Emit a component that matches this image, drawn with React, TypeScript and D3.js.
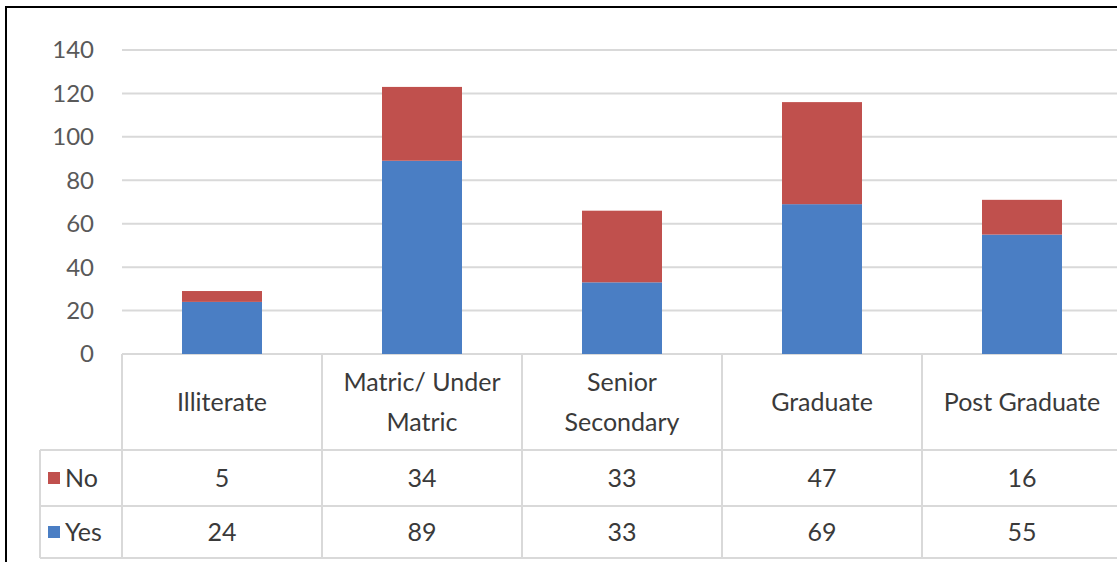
import React, { useEffect } from "react";
import * as d3 from "d3";

const categories = ["Illiterate", "Matric/ Under Matric", "Senior Secondary", "Graduate", "Post Graduate"];
const categoryLines = [["Illiterate"], ["Matric/ Under", "Matric"], ["Senior", "Secondary"], ["Graduate"], ["Post Graduate"]];
const yesValues = [24, 89, 33, 69, 55];
const noValues = [5, 34, 33, 47, 16];
const yTicks = [0, 20, 40, 60, 80, 100, 120, 140];

const W = 1117;
const H = 562;
const FONT = "Lato, 'Open Sans', sans-serif";
const TEXT = "#3a3a3a";
const GRID = "#d9d9d9";
const BLUE = "#4a7ec4";
const RED = "#c0504d";
const FS = 25;

export default function App() {
  useEffect(() => {
    document.body.style.margin = "0";
  }, []);

  const x = d3.scaleBand<string>().domain(categories).range([122, 1122]).padding(0);
  const y = d3.scaleLinear().domain([0, 140]).range([354, 50]);
  const bw = x.bandwidth() * 0.4;

  const headerTop = y(0);
  const headerBottom = 450;
  const noBottom = 506;
  const yesBottom = 558;
  const legendLeft = 40;

  return (
    <svg width={W} height={H} style={{ display: "block", background: "#fff" }} fontFamily={FONT}>
      <rect x={0} y={0} width={W} height={H} fill="#fff" />
      {yTicks.map((t) => (
        <line key={t} x1={122} x2={W} y1={y(t)} y2={y(t)} stroke={GRID} strokeWidth={2} />
      ))}
      {yTicks.map((t) => (
        <text key={"l" + t} x={94} y={y(t)} dy="0.35em" textAnchor="end" fontSize={24} fill="#595959">
          {t}
        </text>
      ))}
      {categories.map((c, i) => {
        const cx = (x(c) as number) + x.bandwidth() / 2;
        return (
          <g key={c}>
            <rect x={cx - bw / 2} y={y(yesValues[i])} width={bw} height={y(0) - y(yesValues[i])} fill={BLUE} />
            <rect
              x={cx - bw / 2}
              y={y(yesValues[i] + noValues[i])}
              width={bw}
              height={y(yesValues[i]) - y(yesValues[i] + noValues[i])}
              fill={RED}
            />
          </g>
        );
      })}
      <line x1={122} x2={W} y1={headerBottom} y2={headerBottom} stroke={GRID} strokeWidth={2} />
      <line x1={legendLeft} x2={122} y1={headerBottom} y2={headerBottom} stroke={GRID} strokeWidth={2} />
      <line x1={legendLeft} x2={W} y1={noBottom} y2={noBottom} stroke={GRID} strokeWidth={2} />
      <line x1={legendLeft} x2={W} y1={yesBottom} y2={yesBottom} stroke={GRID} strokeWidth={2} />
      <line x1={legendLeft} x2={legendLeft} y1={headerBottom} y2={yesBottom} stroke={GRID} strokeWidth={2} />
      {categories.map((c) => (
        <line key={"v" + c} x1={x(c) as number} x2={x(c) as number} y1={headerTop} y2={yesBottom} stroke={GRID} strokeWidth={2} />
      ))}
      {categories.map((c, i) => {
        const cx = (x(c) as number) + x.bandwidth() / 2;
        const lines = categoryLines[i];
        const mid = (headerTop + headerBottom) / 2;
        const lh = 40;
        return (
          <text key={"h" + c} x={cx} textAnchor="middle" fontSize={FS} fill={TEXT}>
            {lines.map((ln, j) => (
              <tspan key={j} x={cx} y={mid + (j - (lines.length - 1) / 2) * lh} dy="0.35em">
                {ln}
              </tspan>
            ))}
          </text>
        );
      })}
      {categories.map((c, i) => {
        const cx = (x(c) as number) + x.bandwidth() / 2;
        return (
          <g key={"r" + c}>
            <text x={cx} y={(headerBottom + noBottom) / 2} dy="0.35em" textAnchor="middle" fontSize={FS} fill={TEXT}>
              {noValues[i]}
            </text>
            <text x={cx} y={(noBottom + yesBottom) / 2} dy="0.35em" textAnchor="middle" fontSize={FS} fill={TEXT}>
              {yesValues[i]}
            </text>
          </g>
        );
      })}
      <rect x={48} y={(headerBottom + noBottom) / 2 - 6} width={12} height={12} fill={RED} />
      <text x={65} y={(headerBottom + noBottom) / 2} dy="0.35em" fontSize={FS} fill={TEXT}>No</text>
      <rect x={48} y={(noBottom + yesBottom) / 2 - 6} width={12} height={12} fill={BLUE} />
      <text x={65} y={(noBottom + yesBottom) / 2} dy="0.35em" fontSize={FS} fill={TEXT}>Yes</text>
      <rect x={6} y={7} width={W + 20} height={H + 20} fill="none" stroke="#000" strokeWidth={2} />
    </svg>
  );
}
